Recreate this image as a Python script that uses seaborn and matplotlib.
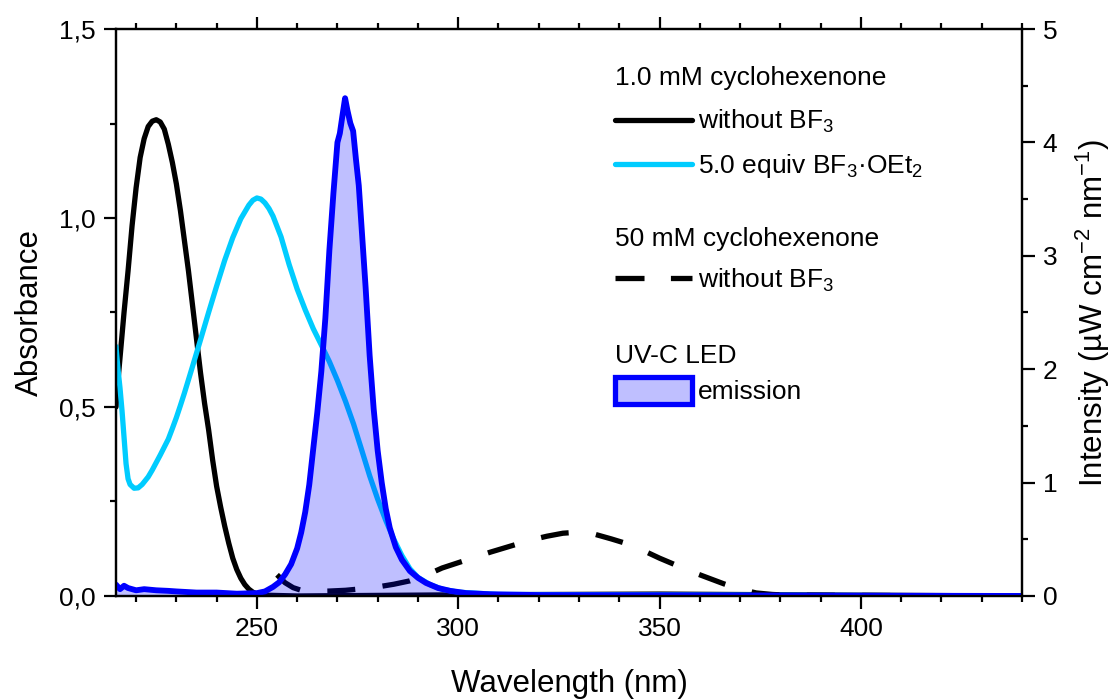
import numpy as np
import pandas as pd
import matplotlib
matplotlib.use("Agg")
import matplotlib.pyplot as plt
import seaborn as sns
from matplotlib.ticker import MultipleLocator, FuncFormatter
from matplotlib.lines import Line2D
from matplotlib.patches import Patch

# 1.0 mM cyclohexenone, without BF3 (absorbance)
black_nm = [215, 215.5, 216, 217, 218, 219, 220, 221, 222, 223, 224, 225, 226, 227, 228,
            229, 230, 231, 232, 233, 234, 235, 236, 237, 238, 239, 240, 241, 242, 243,
            244, 245, 246, 247, 248, 249, 250, 252, 260, 300, 350, 400, 440]
black_abs = [0.50, 0.57, 0.63, 0.75, 0.86, 0.98, 1.08, 1.16, 1.21, 1.242, 1.256, 1.26, 1.254,
             1.235, 1.195, 1.147, 1.09, 1.02, 0.94, 0.86, 0.77, 0.68, 0.59, 0.51, 0.44, 0.36,
             0.29, 0.235, 0.185, 0.14, 0.10, 0.07, 0.047, 0.03, 0.018, 0.01, 0.005, 0.002,
             0.0, 0.003, 0.005, 0.002, 0.0]

# 1.0 mM cyclohexenone, 5.0 equiv BF3.OEt2 (absorbance)
cyan_nm = [215, 215.5, 216, 216.5, 217, 217.5, 218, 218.5, 219.5, 220.5, 221.5, 223, 224,
           226, 228, 229, 230, 231, 232, 234, 236, 238, 240, 242, 244, 246, 248, 249, 250,
           251, 252, 253, 254, 256, 258, 260, 262, 264, 266, 268, 270, 272, 274, 276, 278,
           280, 282, 284, 286, 288, 290, 293, 296, 300, 310, 440]
cyan_abs = [0.66, 0.60, 0.55, 0.49, 0.42, 0.35, 0.31, 0.295, 0.285, 0.286, 0.295, 0.315, 0.333,
            0.373, 0.415, 0.443, 0.472, 0.504, 0.537, 0.607, 0.678, 0.75, 0.82, 0.888, 0.948,
            0.998, 1.034, 1.047, 1.053, 1.05, 1.04, 1.025, 1.005, 0.95, 0.877, 0.812, 0.757,
            0.707, 0.664, 0.62, 0.57, 0.515, 0.455, 0.387, 0.318, 0.256, 0.20, 0.15, 0.107,
            0.072, 0.049, 0.03, 0.018, 0.01, 0.004, 0.0]

# 50 mM cyclohexenone, without BF3 (absorbance)
dash_nm = [255, 257, 259, 261, 264, 268, 272, 276, 280, 284, 288, 292, 296, 300, 304, 308,
           313, 318, 322, 326, 330, 334, 338, 342, 346, 350, 354, 358, 362, 366, 370, 374,
           378, 382, 440]
dash_abs = [0.056, 0.035, 0.022, 0.015, 0.012, 0.013, 0.015, 0.019, 0.024, 0.031, 0.04, 0.055,
            0.074, 0.088, 0.102, 0.116, 0.132, 0.148, 0.158, 0.166, 0.169, 0.163, 0.151,
            0.138, 0.12, 0.10, 0.082, 0.064, 0.048, 0.032, 0.018, 0.008, 0.004, 0.002, 0.0]

# UV-C LED emission (intensity, right axis)
led_nm = [215, 216, 217, 218, 220, 222, 225, 228, 230, 235, 240, 245, 250, 252, 254, 255.5,
          257, 258.5, 260, 261, 262, 263, 264, 265, 266, 267, 268, 269, 270, 270.6, 271.3,
          271.9, 272.5, 273.2, 273.9, 274.6, 275.3, 276, 277, 278, 279, 280, 281, 282, 283,
          284.5, 286, 288, 290, 292, 295, 298, 302, 308, 320, 380, 440]
led_int = [0.10, 0.06, 0.09, 0.07, 0.05, 0.06, 0.05, 0.045, 0.04, 0.03, 0.03, 0.02, 0.025,
           0.04, 0.08, 0.12, 0.19, 0.28, 0.42, 0.56, 0.74, 0.98, 1.30, 1.62, 1.98, 2.45,
           3.05, 3.55, 4.00, 4.08, 4.25, 4.39, 4.28, 4.17, 4.10, 3.85, 3.62, 3.25, 2.72,
           2.12, 1.65, 1.28, 1.0, 0.77, 0.60, 0.43, 0.32, 0.22, 0.16, 0.115, 0.07, 0.045,
           0.025, 0.015, 0.008, 0.004, 0.0]

sns.set_theme(style="ticks")
plt.rcParams['font.family'] = ['Liberation Sans', 'DejaVu Sans']
plt.rcParams['mathtext.fontset'] = 'custom'
plt.rcParams['mathtext.rm'] = 'Liberation Sans'
plt.rcParams['mathtext.it'] = 'Liberation Sans:italic'
plt.rcParams['mathtext.bf'] = 'Liberation Sans:bold'
for key in ['text.color', 'axes.labelcolor', 'xtick.color', 'ytick.color', 'axes.edgecolor']:
    plt.rcParams[key] = 'black'

fig = plt.figure(figsize=(11.12, 6.99), dpi=100)
ax = fig.add_axes([0.1043, 0.1474, 0.8147, 0.8111])
ax2 = ax.twinx()

lw = 3.8
dash_style = (0, (5.3, 5.2))
sns.lineplot(x=black_nm, y=black_abs, ax=ax, color='black', lw=lw, sort=False)
sns.lineplot(x=cyan_nm, y=cyan_abs, ax=ax, color='#00CCFF', lw=lw, sort=False)
sns.lineplot(x=dash_nm, y=dash_abs, ax=ax, color='black', lw=lw, sort=False,
             linestyle=dash_style)

ax2.fill_between(led_nm, led_int, color='blue', alpha=0.25, lw=0)
sns.lineplot(x=led_nm, y=led_int, ax=ax2, color='#0000FF', lw=4.2, sort=False)

# axes
ax.set_xlim(215, 440)
ax.set_ylim(0, 1.5)
ax2.set_ylim(0, 5)
ax.xaxis.set_major_locator(MultipleLocator(50))
ax.xaxis.set_minor_locator(MultipleLocator(10))
ax.yaxis.set_major_locator(MultipleLocator(0.5))
ax.yaxis.set_minor_locator(MultipleLocator(0.25))
ax.yaxis.set_major_formatter(FuncFormatter(lambda v, p: f"{v:.1f}".replace('.', ',')))
ax2.yaxis.set_major_locator(MultipleLocator(1))
ax2.yaxis.set_minor_locator(MultipleLocator(0.5))

for a in (ax, ax2):
    for s in a.spines.values():
        s.set_linewidth(1.6)
        s.set_visible(True)
    a.tick_params(which='both', direction='out', width=1.6, labelsize=19, color='black')
    a.tick_params(which='major', length=9, pad=6)
    a.tick_params(which='minor', length=4.5)
ax.tick_params(axis='x', which='both', top=True, labeltop=False)
ax2.tick_params(axis='y', which='both', right=True, left=False)

ax.set_xlabel('Wavelength (nm)', fontsize=22.5, labelpad=20)
ax.set_ylabel('Absorbance', fontsize=22.5, labelpad=10)
ax2.set_ylabel('Intensity (µW cm$^{-2}$ nm$^{-1}$)', fontsize=22.5, labelpad=12)

# legend in three groups
leg_kw = dict(loc='upper left', frameon=False, fontsize=19, title_fontsize=19,
              borderpad=0, borderaxespad=0, handlelength=2.9, handletextpad=0.25,
              labelspacing=0.66, alignment='left')
h1 = [Line2D([], [], color='black', lw=lw), Line2D([], [], color='#00CCFF', lw=lw)]
leg1 = ax2.legend(h1, ['without BF$_3$', '5.0 equiv BF$_3$·OEt$_2$'],
                  title='1.0 mM cyclohexenone', bbox_to_anchor=(0.551, 0.934), **leg_kw)
ax2.add_artist(leg1)
h2 = [Line2D([], [], color='black', lw=lw, linestyle=(0, (5.5, 5)))]
leg2 = ax2.legend(h2, ['without BF$_3$'], title='50 mM cyclohexenone',
                  bbox_to_anchor=(0.551, 0.651), **dict(leg_kw, labelspacing=0.6))
ax2.add_artist(leg2)
h3 = [Patch(facecolor=(0.75, 0.75, 1.0), edgecolor='#0000FF', lw=3.8)]
ax2.legend(h3, ['emission'], title='UV-C LED', bbox_to_anchor=(0.551, 0.445),
           handleheight=1.2, **dict(leg_kw, labelspacing=0.35))

fig.savefig('out.png', dpi=100)
